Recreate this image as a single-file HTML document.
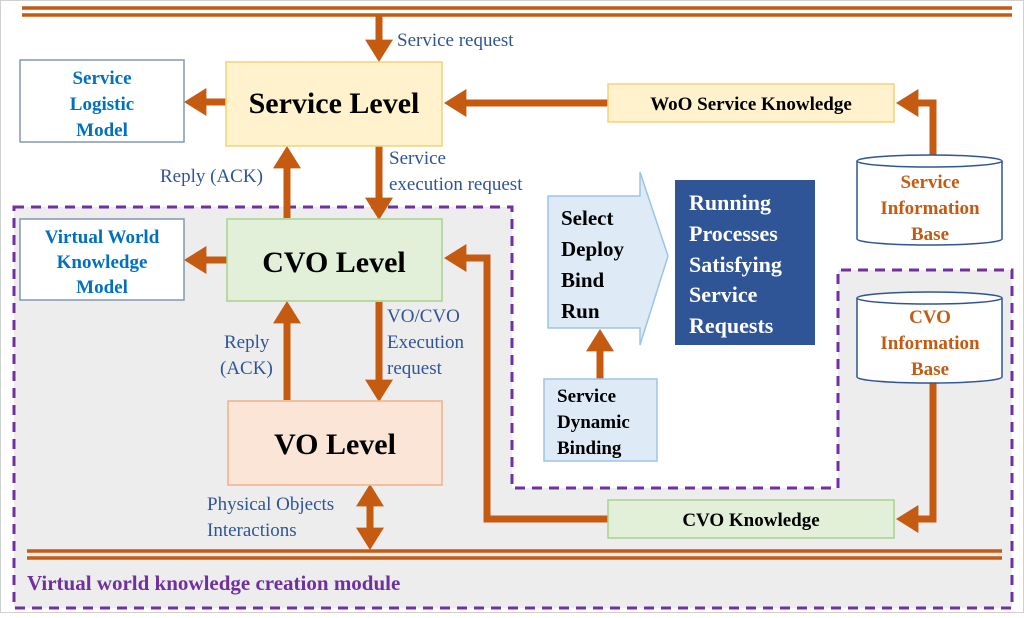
<!DOCTYPE html>
<html><head><meta charset="utf-8"><style>
body{margin:0;background:#fff}
svg text{font-family:"Liberation Serif",serif}
</style></head><body>
<svg width="1024" height="613" viewBox="0 0 1024 613" xmlns="http://www.w3.org/2000/svg">
<defs>
<marker id="ah" markerWidth="4" markerHeight="4" refX="1.2" refY="2" orient="auto" markerUnits="strokeWidth"><path d="M0,0 L3.2,2 L0,4 Z" fill="#c55a11"/></marker>
</defs>
<rect x="0.5" y="0.5" width="1023" height="612" fill="#fff" stroke="#d0d0d0"/>
<polygon points="14,207 512,207 512,488 838,488 838,270 1012,270 1012,608 14,608" fill="#ededed" stroke="#7030a0" stroke-width="3" stroke-dasharray="10,7"/>
<g stroke="#c55a11" stroke-width="3.5">
<line x1="22" y1="8" x2="1012" y2="8"/><line x1="22" y1="15" x2="1012" y2="15"/>
<line x1="27" y1="551" x2="1002" y2="551"/><line x1="27" y1="558" x2="1002" y2="558"/>
</g>
<g stroke="#c55a11" stroke-width="7" fill="none" marker-end="url(#ah)">
<line x1="379" y1="16" x2="379" y2="48"/>
<line x1="226" y1="102" x2="198" y2="102"/>
<line x1="608" y1="103" x2="458" y2="103"/>
<polyline points="933,155 933,103 910,103"/>
<line x1="287" y1="218" x2="287" y2="160"/>
<line x1="379" y1="146" x2="379" y2="206"/>
<line x1="227" y1="260" x2="198" y2="260"/>
<line x1="287" y1="400" x2="287" y2="315"/>
<line x1="379" y1="302" x2="379" y2="388"/>
<polyline points="608,519 487,519 487,258 458,258"/>
<polyline points="933,383 933,519 910,519"/>
<line x1="600" y1="379" x2="600" y2="343"/>
<line x1="370" y1="515" x2="370" y2="536"/>
<line x1="370" y1="515" x2="370" y2="498"/>
</g>
<!-- boxes -->
<rect x="226" y="62" width="216" height="84" fill="#fff2cc" stroke="#f4d27a" stroke-width="1.5"/>
<text x="334" y="113" font-size="30" font-weight="bold" text-anchor="middle">Service Level</text>
<rect x="20" y="60" width="164" height="82" fill="#fff" stroke="#8497b0" stroke-width="1.5"/>
<rect x="20" y="219" width="164" height="81" fill="#fff" stroke="#8497b0" stroke-width="1.5"/>
<g font-size="19" font-weight="bold" fill="#0070c0" text-anchor="middle">
<text x="102" y="84">Service</text><text x="102" y="110">Logistic</text><text x="102" y="136">Model</text>
<text x="102" y="243">Virtual World</text><text x="102" y="268">Knowledge</text><text x="102" y="293">Model</text>
</g>
<rect x="608" y="84" width="286" height="38" fill="#fff2cc" stroke="#f4d27a" stroke-width="1.5"/>
<text x="751" y="110" font-size="19" font-weight="bold" text-anchor="middle">WoO Service Knowledge</text>
<rect x="227" y="219" width="215" height="82" fill="#e2f0d9" stroke="#a9d18e" stroke-width="1.5"/>
<text x="334" y="272" font-size="30" font-weight="bold" text-anchor="middle">CVO Level</text>
<rect x="228" y="401" width="214" height="84" fill="#fbe5d6" stroke="#f4b183" stroke-width="1.5"/>
<text x="335" y="454" font-size="30" font-weight="bold" text-anchor="middle">VO Level</text>
<rect x="608" y="500" width="286" height="38" fill="#e2f0d9" stroke="#a9d18e" stroke-width="1.5"/>
<text x="751" y="526" font-size="19" font-weight="bold" text-anchor="middle">CVO Knowledge</text>
<!-- cylinders -->
<g fill="#fff" stroke="#2f5597" stroke-width="1.5">
<path d="M857,161 L857,239 A72,6 0 0 0 1002,239 L1002,161"/>
<ellipse cx="929.5" cy="161" rx="72.5" ry="6"/>
<path d="M857,298 L857,377 A72,6 0 0 0 1002,377 L1002,298"/>
<ellipse cx="929.5" cy="298" rx="72.5" ry="6"/>
</g>
<g font-size="19" font-weight="bold" fill="#c55a11" text-anchor="middle">
<text x="930" y="188">Service</text><text x="930" y="214">Information</text><text x="930" y="240">Base</text>
<text x="930" y="323">CVO</text><text x="930" y="349">Information</text><text x="930" y="375">Base</text>
</g>
<!-- select arrow -->
<polygon points="548,196 640,196 640,172 668,256 640,345 640,328 548,328" fill="#deebf7" stroke="#9dc3e6" stroke-width="1.5"/>
<g font-size="21" font-weight="bold">
<text x="561" y="225">Select</text><text x="561" y="256">Deploy</text><text x="561" y="287">Bind</text><text x="561" y="318">Run</text>
</g>
<rect x="675" y="180" width="140" height="165" fill="#2f5597"/>
<g font-size="22" font-weight="bold" fill="#fff">
<text x="689" y="210">Running</text><text x="689" y="241">Processes</text><text x="689" y="272">Satisfying</text><text x="689" y="302">Service</text><text x="689" y="333">Requests</text>
</g>
<rect x="544" y="379" width="113" height="82" fill="#deebf7" stroke="#9dc3e6" stroke-width="1.5"/>
<g font-size="19" font-weight="bold">
<text x="557" y="402">Service</text><text x="557" y="428">Dynamic</text><text x="557" y="454">Binding</text>
</g>
<!-- labels -->
<g font-size="19" fill="#2f5597">
<text x="397" y="46">Service request</text>
<text x="160" y="182">Reply (ACK)</text>
<text x="389" y="164">Service</text><text x="389" y="190">execution request</text>
<text x="224" y="348">Reply</text><text x="220" y="374">(ACK)</text>
<text x="387" y="322">VO/CVO</text><text x="387" y="348">Execution</text><text x="387" y="374">request</text>
<text x="207" y="510">Physical Objects</text><text x="207" y="536">Interactions</text>
</g>
<text x="27" y="590" font-size="21" font-weight="bold" fill="#7030a0">Virtual world knowledge creation module</text>
</svg>
</body></html>
